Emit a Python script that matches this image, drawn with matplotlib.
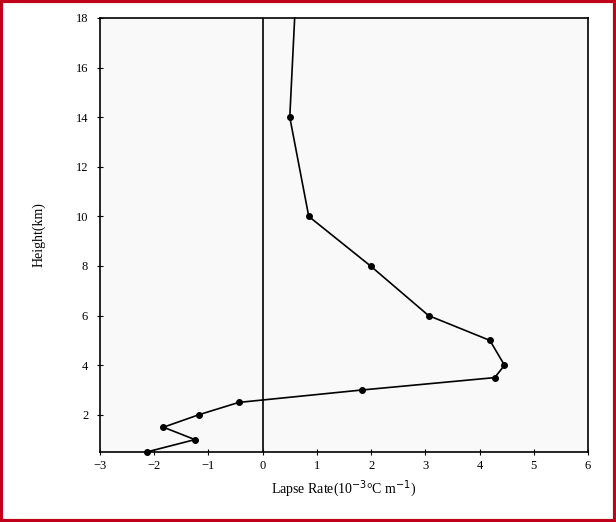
import matplotlib.pyplot as plt
import matplotlib.patches as patches

# Lapse rate profile
lapse = [0.59, 0.50, 0.85, 1.99, 3.06, 4.19, 4.46, 4.28, 1.83, -0.44, -1.18, -1.83, -1.25, -2.14]
height = [18, 14, 10, 8, 6, 5, 4, 3.5, 3, 2.5, 2, 1.5, 1, 0.5]

x_ticks = [-3, -2, -1, 0, 1, 2, 3, 4, 5, 6]
y_ticks = [2, 4, 6, 8, 10, 12, 14, 16, 18]

plt.rcParams['font.family'] = ['Liberation Serif', 'DejaVu Serif']

fig = plt.figure(figsize=(6.16, 5.22), dpi=100)
ax = fig.add_axes([100 / 616, 1 - 452 / 522, 488 / 616, 434 / 522])
ax.set_facecolor("#f9f9f9")

# no marker on the top point (sits on the frame)
ax.plot(lapse, height, color="black", lw=1.2, marker="o", ms=4,
        markevery=list(range(1, len(lapse))), clip_on=False)
ax.axvline(0, color="black", lw=1.2)

ax.set_xlim(-3, 6)
ax.set_ylim(0.5, 18)
ax.set_xticks(x_ticks)
ax.set_yticks(y_ticks)
ax.tick_params(direction="inout", length=5, labelsize=9, width=0.8)
ax.tick_params(axis="y", pad=6)

for s in ax.spines.values():
    s.set_linewidth(1.2)

ax.set_xlabel("Lapse Rate(10$^{-3}$°C m$^{-1}$)", fontsize=10, labelpad=4)
ax.set_ylabel("Height(km)", fontsize=10, labelpad=22)

# red frame around the figure
fig.patches.append(patches.Rectangle((0.002, 0.002), 0.996, 0.996, transform=fig.transFigure,
                                     fill=False, edgecolor="#c0001a", lw=3))

fig.savefig("out.png", dpi=100)
